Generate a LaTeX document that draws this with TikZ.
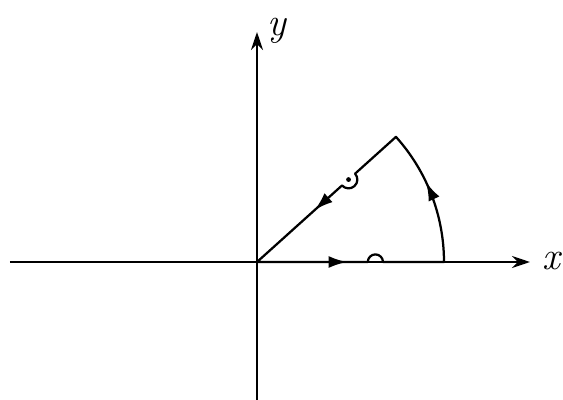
\documentclass[tikz,border=0pt]{standalone}
\usepackage{tikz}
\usetikzlibrary{arrows.meta, decorations.markings}

\begin{document}
\begin{tikzpicture}[
  axis/.style={line width=1.6pt, -{Stealth[length=4.5mm, width=3mm]}},
  contour/.style={line width=1.6pt, postaction={decorate}, decoration={markings,
      mark=at position 2.25cm with {\arrow{Latex[length=4.6mm, width=3mm]}},
      mark=at position 6.95cm with {\arrow{Latex[length=4.6mm, width=3mm]}},
      mark=at position 11.3cm with {\arrow{Latex[length=4.6mm, width=3mm]}}}},
  axislabel/.style={font=\fontsize{28}{28}\selectfont\itshape, inner sep=0pt}
]
\useasboundingbox (-6.425,-3.425) rectangle (7.65,6.55);

% axes
\coordinate (O) at (0,0);
\coordinate (xl) at (-6.175,0);
\coordinate (xr) at (6.825,0);
\coordinate (yb) at (0,-3.45);
\coordinate (yt) at (0,5.75);
\draw[axis] (xl) -- (xr);
\draw[axis] (yb) -- (yt);
\node[axislabel] (xlab) at (7.37,0.02) {x};
\node[axislabel] (ylab) at (0.5,5.78) {y};

% closed contour with the two indentations
\coordinate (A) at (4.675,0);
\coordinate (B) at (42:4.675);
\coordinate (P) at (42:3.08);
\draw[contour, line join=round] (O) -- (2.77,0) arc (180:0:0.19) -- (A)
  arc (0:42:4.675) -- (42:3.3) arc (42:-138:0.22) -- (O);
\fill (P) circle (0.06);
\end{tikzpicture}
\end{document}
